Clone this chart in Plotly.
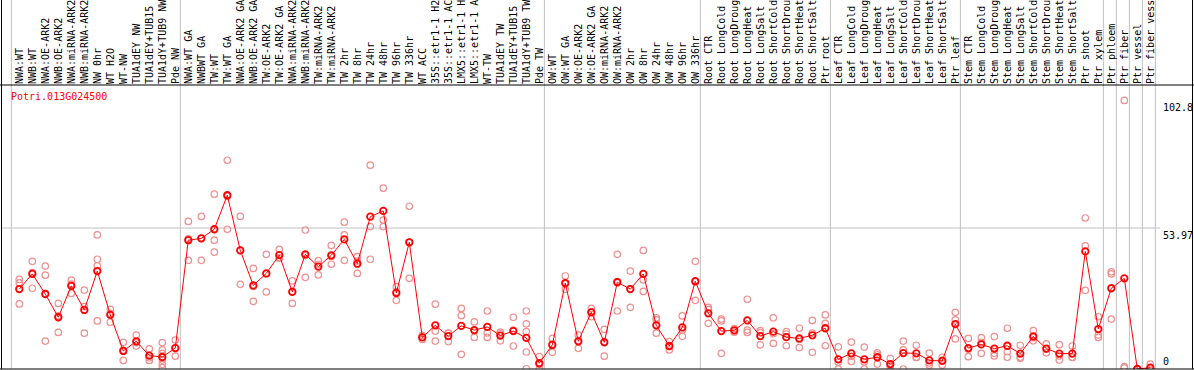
import plotly.graph_objects as go

# ---------------- data ----------------
gene_id = "Potri.013G024500"

categories = [
    "NWA:WT", "NWB:WT", "NWA:OE-ARK2", "NWB:OE-ARK2", "NWA:miRNA-ARK2", "NWB:miRNA-ARK2",
    "NW 0hr", "WT H2O", "WT-NW", "TUA1dEY NW", "TUA1dEY+TUB15 NW", "TUA1dY+TUB9 NW", "Pde NW",
    "NWA:WT GA", "NWBWT GA", "TW:WT", "TW:WT GA", "NWA:OE-ARK2 GA", "NWB:OE-ARK2 GA",
    "TW:OE-ARK2", "TW:OE-ARK2 GA", "NWA:miRNA-ARK2 GA", "NWB:miRNA-ARK2 GA", "TW:miRNA-ARK2",
    "TW:miRNA-ARK2 GA", "TW 2hr", "TW 8hr", "TW 24hr", "TW 48hr", "TW 96hr", "TW 336hr",
    "WT ACC", "35S::etr1-1 H2O", "35S::etr1-1 ACC", "LMX5::etr1-1 H2O", "LMX5::etr1-1 ACC",
    "WT-TW", "TUA1dEY TW", "TUA1dEY+TUB15 TW", "TUA1dY+TUB9 TW", "Pde TW",
    "OW:WT", "OW:WT GA", "OW:OE-ARK2", "OW:OE-ARK2 GA", "OW:miRNA-ARK2", "OW:miRNA-ARK2 GA",
    "OW 2hr", "OW 8hr", "OW 24hr", "OW 48hr", "OW 96hr", "OW 336hr",
    "Root CTR", "Root LongCold", "Root LongDrought", "Root LongHeat", "Root LongSalt",
    "Root ShortCold", "Root ShortDrought", "Root ShortHeat", "Root ShortSalt", "Ptr root",
    "Leaf CTR", "Leaf LongCold", "Leaf LongDrought", "Leaf LongHeat", "Leaf LongSalt",
    "Leaf ShortCold", "Leaf ShortDrought", "Leaf ShortHeat", "Leaf ShortSalt", "Ptr leaf",
    "Stem CTR", "Stem LongCold", "Stem LongDrought", "Stem LongHeat", "Stem LongSalt",
    "Stem ShortCold", "Stem ShortDrought", "Stem ShortHeat", "Stem ShortSalt", "Ptr shoot",
    "Ptr xylem", "Ptr phloem", "Ptr fiber", "Ptr vessel", "Ptr fiber vessel",
]

mean_values = [
    30.6, 36.4, 28.7, 19.8, 31.8, 22.6, 37.5, 20.7, 6.9, 10.6, 5.1, 4.6, 8.0,
    49.3, 50.0, 53.5, 66.5, 45.4, 32.0, 36.6, 43.6, 29.5, 43.9, 39.2, 43.5, 49.6, 40.3,
    58.3, 60.5, 29.1, 48.5, 12.1, 16.7, 12.6, 16.5, 14.9, 16.1, 12.8, 14.5, 11.9, 2.2,
    9.2, 32.9, 10.6, 21.7, 10.2, 33.2, 30.6, 36.4, 16.7, 8.8, 15.9, 33.6,
    21.3, 14.5, 14.8, 18.6, 12.6, 14.3, 12.2, 11.7, 12.9, 15.6,
    3.7, 6.0, 3.7, 4.5, 1.9, 6.1, 6.0, 3.3, 3.1, 17.2,
    8.0, 9.4, 7.8, 8.9, 5.9, 12.5, 7.8, 5.9, 5.9, 45.0,
    15.3, 30.9, 34.7, 0.0, 0.5,
]

replicates = [
    [34.3, 33.0, 24.9], [41.2, 36.9, 30.9], [39.4, 35.9, 10.7], [25.1, 20.3, 14.0],
    [34.0, 32.5, 28.9], [30.2, 23.9, 13.7], [51.3, 42.0, 39.5, 18.4], [22.8, 21.3, 17.9],
    [10.2, 7.2, 3.3], [13.0, 10.0, 8.8], [7.7, 4.3, 3.3], [10.1, 7.3, 6.0, 3.4, 1.8, 0.5],
    [11.1, 8.0, 4.9],
    [56.5, 49.8, 41.6], [58.4, 50.0, 41.6], [66.9, 49.3, 44.7], [79.9, 66.1, 53.5],
    [58.4, 45.4, 32.4], [38.5, 31.6, 25.9], [43.9, 36.4, 29.5], [45.8, 42.6, 42.4],
    [33.7, 29.7, 25.1], [53.2, 43.4, 35.1], [41.5, 40.1, 36.0], [47.3, 43.1, 40.1],
    [56.2, 51.3, 41.6], [43.0, 41.3, 36.6], [78.0, 54.5, 42.0], [69.2, 57.0, 54.5],
    [31.5, 29.5, 26.3], [62.3, 48.5, 34.7], [12.9, 12.1, 11.3], [24.8, 14.5, 10.7],
    [13.7, 13.6, 10.5], [23.2, 20.4, 5.6], [18.0, 14.6, 12.1], [22.2, 13.8, 12.1],
    [14.1, 13.5, 10.8], [19.8, 14.9, 8.8], [22.2, 17.3, 14.3, 6.5, 0.1], [4.7, 1.9, 0.0],
    [11.7, 9.5, 6.4], [35.6, 32.6, 30.5], [13.0, 10.9, 7.9], [23.2, 21.9, 20.0],
    [15.2, 10.5, 4.9], [43.9, 33.5, 22.2], [37.5, 30.7, 23.6], [45.4, 34.1, 29.7],
    [19.6, 18.8, 13.7], [10.5, 8.6, 7.3], [20.3, 14.9, 12.5], [41.2, 33.3, 26.3],
    [23.6, 22.8, 17.5], [19.1, 18.4, 6.0], [15.5, 14.8, 14.1], [26.7, 14.9, 14.0],
    [14.7, 13.9, 9.2], [19.6, 13.5, 9.8], [14.3, 13.4, 8.9], [15.6, 11.3, 8.2],
    [18.6, 13.7, 6.4], [20.7, 17.5, 8.9],
    [8.5, 2.6, 0.0], [10.3, 4.8, 2.9], [8.4, 2.7, 0.0], [6.2, 5.4, 1.9], [4.1, 1.2, 0.4],
    [10.7, 7.3, 0.0], [9.1, 4.5, 4.4], [6.1, 2.3, 1.5], [4.5, 3.3, 1.5], [21.7, 18.8, 11.5],
    [11.7, 7.6, 4.7], [12.0, 10.2, 6.0], [12.4, 6.0, 5.0], [15.6, 6.6, 4.5], [9.1, 4.5, 4.1],
    [14.7, 12.0, 10.8], [9.6, 7.6, 6.2], [9.3, 5.0, 3.4], [8.8, 4.5, 4.4], [57.8, 47.1, 30.1],
    [20.0, 13.0, 12.1], [37.2, 36.4, 19.1], [102.8, 0.9, 0.4], [0.0, 0.0, 0.0], [1.9, 0.0, 0.0],
]

# first index of each sample group (separators drawn before each, and after the last sample)
group_starts = [0, 13, 41, 53, 63, 73, 84, 85, 86, 87]
y_tick_values = [102.8, 53.97, 0]
y_tick_labels = ["102.8", "53.97", "0"]

# ---------------- layout geometry ----------------
W, H = 1194, 370
TOP, BOTTOM = 85, 369
PX_PER_UNIT = 2.6126
X0, DX = 19.3, 13.0
FONT = "DejaVu Sans Mono"
GRAY = "#c0c0c0"

n = len(categories)
plot_h = BOTTOM - TOP

rx, ry = [], []
for i, reps in enumerate(replicates):
    for v in reps:
        rx.append(i)
        ry.append(v)

fig = go.Figure()
fig.add_trace(go.Scatter(
    x=rx, y=ry, mode="markers",
    marker=dict(symbol="circle-open", size=6.5, color="#ee9090", line=dict(width=1.2)),
    hoverinfo="skip", showlegend=False,
))
fig.add_trace(go.Scatter(
    x=list(range(n)), y=mean_values, mode="lines+markers",
    line=dict(color="#ff0000", width=1),
    marker=dict(symbol="circle-open", size=6.5, color="#ff0000", line=dict(width=1.8)),
    showlegend=False,
))

shapes = []
top_paper = BOTTOM / plot_h
for b in group_starts + [n]:
    xb = b - 0.5 - 0.11
    shapes.append(dict(type="line", xref="x", yref="paper", x0=xb, x1=xb, y0=0, y1=top_paper,
                       line=dict(color=GRAY, width=1), layer="below"))
# horizontal grid line at middle value
shapes.append(dict(type="line", xref="paper", yref="y", x0=2 / W, x1=1160 / W,
                   y0=y_tick_values[1], y1=y_tick_values[1],
                   line=dict(color=GRAY, width=1), layer="below"))
# frame
shapes += [
    dict(type="line", xref="paper", yref="paper", x0=1.5 / W, x1=1.5 / W, y0=0, y1=top_paper,
         line=dict(color="black", width=1)),
    dict(type="line", xref="paper", yref="paper", x0=1192.5 / W, x1=1192.5 / W, y0=0, y1=top_paper,
         line=dict(color="black", width=1)),
    dict(type="line", xref="paper", yref="paper", x0=0, x1=1, y0=1, y1=1,
         line=dict(color="black", width=1)),
    dict(type="line", xref="paper", yref="paper", x0=0, x1=1, y0=0, y1=0,
         line=dict(color="black", width=1)),
]

annotations = [dict(text=gene_id, xref="paper", yref="paper", x=9 / W, xanchor="left",
                    y=(BOTTOM - 89) / plot_h, yanchor="top", showarrow=False,
                    font=dict(family=FONT, size=10, color="#ff0000"))]
for v, lab in zip(y_tick_values, y_tick_labels):
    annotations.append(dict(text=lab, xref="paper", yref="y", x=1161 / W, xanchor="left",
                            y=v, yanchor="bottom" if v == 0 else "top", showarrow=False,
                            font=dict(family=FONT, size=10, color="black")))

fig.update_layout(
    template="none",
    width=W, height=H,
    margin=dict(l=0, r=0, t=TOP, b=H - BOTTOM, pad=0),
    paper_bgcolor="white", plot_bgcolor="white",
    showlegend=False,
    shapes=shapes,
    annotations=annotations,
    xaxis=dict(
        side="top", range=[-X0 / DX, (W - X0) / DX], tickmode="array",
        tickvals=list(range(n)), ticktext=categories, tickangle=-90,
        tickfont=dict(family=FONT, size=10, color="black"),
        ticks="", showgrid=False, zeroline=False, showline=False,
        automargin=False, ticklabeloverflow="allow",
    ),
    yaxis=dict(
        range=[0, plot_h / PX_PER_UNIT], showticklabels=False, ticks="",
        showgrid=False, zeroline=False, showline=False, automargin=False,
    ),
)

fig.write_html(
    "out.html",
    config={"displayModeBar": False},
    post_script="document.body.style.margin='0';document.body.style.padding='0';"
                "document.body.style.overflow='hidden';",
)
